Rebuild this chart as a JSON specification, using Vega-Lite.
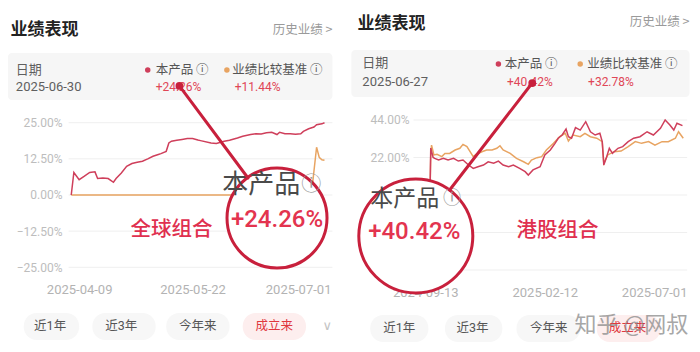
{
  "$schema": "https://vega.github.io/schema/vega-lite/v6.json",
  "padding": 0,
  "background": "#ffffff",
  "spacing": 8,
  "config": {
    "view": {"stroke": null},
    "axis": {"grid": false, "ticks": false, "domain": false},
    "font": "Noto Sans CJK SC"
  },
  "datasets": {
    "g_lines": [
      {"date": "2025-04-06", "v": 0, "series": "业绩比较基准"},
      {"date": "2025-05-01", "v": 0, "series": "业绩比较基准"},
      {"date": "2025-06-01", "v": 0, "series": "业绩比较基准"},
      {"date": "2025-07-06", "v": 0, "series": "业绩比较基准"},
      {"date": "2025-07-08", "v": 16.5, "series": "业绩比较基准"},
      {"date": "2025-07-09", "v": 13.0, "series": "业绩比较基准"},
      {"date": "2025-07-10", "v": 12.2, "series": "业绩比较基准"},
      {"date": "2025-07-11", "v": 12.0, "series": "业绩比较基准"},
      {"date": "2025-04-06", "v": 0, "series": "本产品"},
      {"date": "2025-04-07", "v": 7.8, "series": "本产品"},
      {"date": "2025-04-09", "v": 5.3, "series": "本产品"},
      {"date": "2025-04-11", "v": 6.5, "series": "本产品"},
      {"date": "2025-04-13", "v": 7.8, "series": "本产品"},
      {"date": "2025-04-15", "v": 8.0, "series": "本产品"},
      {"date": "2025-04-16", "v": 5.7, "series": "本产品"},
      {"date": "2025-04-18", "v": 5.9, "series": "本产品"},
      {"date": "2025-04-20", "v": 5.7, "series": "本产品"},
      {"date": "2025-04-22", "v": 4.4, "series": "本产品"},
      {"date": "2025-04-23", "v": 5.7, "series": "本产品"},
      {"date": "2025-04-25", "v": 7.6, "series": "本产品"},
      {"date": "2025-04-27", "v": 9.9, "series": "本产品"},
      {"date": "2025-04-29", "v": 10.9, "series": "本产品"},
      {"date": "2025-05-01", "v": 11.3, "series": "本产品"},
      {"date": "2025-05-03", "v": 11.7, "series": "本产品"},
      {"date": "2025-05-05", "v": 12.5, "series": "本产品"},
      {"date": "2025-05-07", "v": 13.4, "series": "本产品"},
      {"date": "2025-05-09", "v": 14.0, "series": "本产品"},
      {"date": "2025-05-10", "v": 14.3, "series": "本产品"},
      {"date": "2025-05-12", "v": 15.1, "series": "本产品"},
      {"date": "2025-05-13", "v": 18.0, "series": "本产品"},
      {"date": "2025-05-14", "v": 18.6, "series": "本产品"},
      {"date": "2025-05-16", "v": 18.9, "series": "本产品"},
      {"date": "2025-05-18", "v": 19.2, "series": "本产品"},
      {"date": "2025-05-20", "v": 19.5, "series": "本产品"},
      {"date": "2025-05-22", "v": 19.5, "series": "本产品"},
      {"date": "2025-05-24", "v": 19.0, "series": "本产品"},
      {"date": "2025-05-25", "v": 18.8, "series": "本产品"},
      {"date": "2025-05-29", "v": 18.0, "series": "本产品"},
      {"date": "2025-05-31", "v": 17.8, "series": "本产品"},
      {"date": "2025-06-03", "v": 18.6, "series": "本产品"},
      {"date": "2025-06-05", "v": 18.9, "series": "本产品"},
      {"date": "2025-06-08", "v": 19.7, "series": "本产品"},
      {"date": "2025-06-10", "v": 20.3, "series": "本产品"},
      {"date": "2025-06-13", "v": 20.9, "series": "本产品"},
      {"date": "2025-06-15", "v": 21.2, "series": "本产品"},
      {"date": "2025-06-17", "v": 21.1, "series": "本产品"},
      {"date": "2025-06-19", "v": 21.5, "series": "本产品"},
      {"date": "2025-06-21", "v": 21.7, "series": "本产品"},
      {"date": "2025-06-23", "v": 20.9, "series": "本产品"},
      {"date": "2025-06-24", "v": 21.7, "series": "本产品"},
      {"date": "2025-06-26", "v": 21.2, "series": "本产品"},
      {"date": "2025-06-28", "v": 21.2, "series": "本产品"},
      {"date": "2025-06-30", "v": 21.0, "series": "本产品"},
      {"date": "2025-07-02", "v": 21.2, "series": "本产品"},
      {"date": "2025-07-03", "v": 22.0, "series": "本产品"},
      {"date": "2025-07-05", "v": 22.9, "series": "本产品"},
      {"date": "2025-07-07", "v": 23.5, "series": "本产品"},
      {"date": "2025-07-08", "v": 24.3, "series": "本产品"},
      {"date": "2025-07-10", "v": 24.6, "series": "本产品"},
      {"date": "2025-07-11", "v": 25.0, "series": "本产品"}
    ],
    "h_lines": [
      {"date": "2024-09-19", "v": 0, "series": "业绩比较基准"},
      {"date": "2024-09-20", "v": 23.5, "series": "业绩比较基准"},
      {"date": "2024-09-21", "v": 29.3, "series": "业绩比较基准"},
      {"date": "2024-09-24", "v": 23.5, "series": "业绩比较基准"},
      {"date": "2024-09-28", "v": 23.9, "series": "业绩比较基准"},
      {"date": "2024-10-04", "v": 22.5, "series": "业绩比较基准"},
      {"date": "2024-10-08", "v": 24.4, "series": "业绩比较基准"},
      {"date": "2024-10-14", "v": 24.4, "series": "业绩比较基准"},
      {"date": "2024-10-21", "v": 26.4, "series": "业绩比较基准"},
      {"date": "2024-10-27", "v": 27.4, "series": "业绩比较基准"},
      {"date": "2024-10-31", "v": 29.7, "series": "业绩比较基准"},
      {"date": "2024-11-05", "v": 28.4, "series": "业绩比较基准"},
      {"date": "2024-11-09", "v": 25.4, "series": "业绩比较基准"},
      {"date": "2024-11-13", "v": 22.5, "series": "业绩比较基准"},
      {"date": "2024-11-17", "v": 23.9, "series": "业绩比较基准"},
      {"date": "2024-11-24", "v": 25.4, "series": "业绩比较基准"},
      {"date": "2024-11-30", "v": 26.4, "series": "业绩比较基准"},
      {"date": "2024-12-07", "v": 26.4, "series": "业绩比较基准"},
      {"date": "2024-12-13", "v": 27.4, "series": "业绩比较基准"},
      {"date": "2024-12-17", "v": 28.9, "series": "业绩比较基准"},
      {"date": "2024-12-21", "v": 26.4, "series": "业绩比较基准"},
      {"date": "2024-12-30", "v": 24.4, "series": "业绩比较基准"},
      {"date": "2025-01-07", "v": 21.5, "series": "业绩比较基准"},
      {"date": "2025-01-16", "v": 19.5, "series": "业绩比较基准"},
      {"date": "2025-01-22", "v": 18.0, "series": "业绩比较基准"},
      {"date": "2025-01-26", "v": 20.5, "series": "业绩比较基准"},
      {"date": "2025-02-02", "v": 21.9, "series": "业绩比较基准"},
      {"date": "2025-02-08", "v": 22.5, "series": "业绩比较基准"},
      {"date": "2025-02-14", "v": 26.4, "series": "业绩比较基准"},
      {"date": "2025-02-23", "v": 30.3, "series": "业绩比较基准"},
      {"date": "2025-03-03", "v": 34.2, "series": "业绩比较基准"},
      {"date": "2025-03-10", "v": 36.2, "series": "业绩比较基准"},
      {"date": "2025-03-14", "v": 31.7, "series": "业绩比较基准"},
      {"date": "2025-03-20", "v": 35.2, "series": "业绩比较基准"},
      {"date": "2025-03-29", "v": 34.2, "series": "业绩比较基准"},
      {"date": "2025-04-04", "v": 36.2, "series": "业绩比较基准"},
      {"date": "2025-04-11", "v": 34.2, "series": "业绩比较基准"},
      {"date": "2025-04-19", "v": 33.3, "series": "业绩比较基准"},
      {"date": "2025-04-26", "v": 31.3, "series": "业绩比较基准"},
      {"date": "2025-04-28", "v": 18.6, "series": "业绩比较基准"},
      {"date": "2025-05-03", "v": 23.5, "series": "业绩比较基准"},
      {"date": "2025-05-11", "v": 25.4, "series": "业绩比较基准"},
      {"date": "2025-05-20", "v": 25.8, "series": "业绩比较基准"},
      {"date": "2025-05-29", "v": 28.4, "series": "业绩比较基准"},
      {"date": "2025-06-07", "v": 31.3, "series": "业绩比较基准"},
      {"date": "2025-06-15", "v": 30.3, "series": "业绩比较基准"},
      {"date": "2025-06-24", "v": 31.3, "series": "业绩比较基准"},
      {"date": "2025-07-02", "v": 29.3, "series": "业绩比较基准"},
      {"date": "2025-07-11", "v": 31.3, "series": "业绩比较基准"},
      {"date": "2025-07-19", "v": 31.3, "series": "业绩比较基准"},
      {"date": "2025-07-28", "v": 33.3, "series": "业绩比较基准"},
      {"date": "2025-08-01", "v": 37.1, "series": "业绩比较基准"},
      {"date": "2025-08-07", "v": 33.3, "series": "业绩比较基准"},
      {"date": "2024-09-19", "v": 0, "series": "本产品"},
      {"date": "2024-09-20", "v": 27.5, "series": "本产品"},
      {"date": "2024-09-23", "v": 22.0, "series": "本产品"},
      {"date": "2024-09-25", "v": 21.5, "series": "本产品"},
      {"date": "2024-09-30", "v": 20.5, "series": "本产品"},
      {"date": "2024-10-06", "v": 21.5, "series": "本产品"},
      {"date": "2024-10-12", "v": 20.5, "series": "本产品"},
      {"date": "2024-10-19", "v": 21.5, "series": "本产品"},
      {"date": "2024-10-25", "v": 19.9, "series": "本产品"},
      {"date": "2024-10-31", "v": 20.5, "series": "本产品"},
      {"date": "2024-11-07", "v": 17.6, "series": "本产品"},
      {"date": "2024-11-13", "v": 15.6, "series": "本产品"},
      {"date": "2024-11-19", "v": 16.6, "series": "本产品"},
      {"date": "2024-11-26", "v": 17.6, "series": "本产品"},
      {"date": "2024-12-02", "v": 19.5, "series": "本产品"},
      {"date": "2024-12-09", "v": 18.6, "series": "本产品"},
      {"date": "2024-12-15", "v": 19.9, "series": "本产品"},
      {"date": "2024-12-21", "v": 17.6, "series": "本产品"},
      {"date": "2024-12-28", "v": 16.6, "series": "本产品"},
      {"date": "2025-01-03", "v": 17.6, "series": "本产品"},
      {"date": "2025-01-11", "v": 15.6, "series": "本产品"},
      {"date": "2025-01-18", "v": 13.7, "series": "本产品"},
      {"date": "2025-01-22", "v": 11.7, "series": "本产品"},
      {"date": "2025-01-28", "v": 14.7, "series": "本产品"},
      {"date": "2025-02-06", "v": 16.6, "series": "本产品"},
      {"date": "2025-02-12", "v": 23.5, "series": "本产品"},
      {"date": "2025-02-19", "v": 26.4, "series": "本产品"},
      {"date": "2025-02-25", "v": 30.3, "series": "本产品"},
      {"date": "2025-03-01", "v": 33.3, "series": "本产品"},
      {"date": "2025-03-06", "v": 35.2, "series": "本产品"},
      {"date": "2025-03-11", "v": 38.7, "series": "本产品"},
      {"date": "2025-03-14", "v": 34.2, "series": "本产品"},
      {"date": "2025-03-18", "v": 33.3, "series": "本产品"},
      {"date": "2025-03-23", "v": 39.5, "series": "本产品"},
      {"date": "2025-03-29", "v": 38.1, "series": "本产品"},
      {"date": "2025-04-05", "v": 43.0, "series": "本产品"},
      {"date": "2025-04-11", "v": 37.1, "series": "本产品"},
      {"date": "2025-04-17", "v": 35.2, "series": "本产品"},
      {"date": "2025-04-23", "v": 36.2, "series": "本产品"},
      {"date": "2025-04-26", "v": 31.3, "series": "本产品"},
      {"date": "2025-04-28", "v": 17.6, "series": "本产品"},
      {"date": "2025-05-01", "v": 21.5, "series": "本产品"},
      {"date": "2025-05-05", "v": 27.4, "series": "本产品"},
      {"date": "2025-05-09", "v": 24.4, "series": "本产品"},
      {"date": "2025-05-16", "v": 27.4, "series": "本产品"},
      {"date": "2025-05-22", "v": 28.4, "series": "本产品"},
      {"date": "2025-05-29", "v": 31.3, "series": "本产品"},
      {"date": "2025-06-05", "v": 33.3, "series": "本产品"},
      {"date": "2025-06-13", "v": 34.2, "series": "本产品"},
      {"date": "2025-06-22", "v": 37.1, "series": "本产品"},
      {"date": "2025-06-30", "v": 35.2, "series": "本产品"},
      {"date": "2025-07-09", "v": 39.1, "series": "本产品"},
      {"date": "2025-07-15", "v": 44.0, "series": "本产品"},
      {"date": "2025-07-21", "v": 41.1, "series": "本产品"},
      {"date": "2025-07-26", "v": 38.1, "series": "本产品"},
      {"date": "2025-07-30", "v": 42.1, "series": "本产品"},
      {"date": "2025-08-06", "v": 40.7, "series": "本产品"}
    ],
    "g_grid": [{"v": 25}, {"v": 12.5}, {"v": 0}, {"v": -12.5}, {"v": -25}],
    "h_grid": [{"v": 44}, {"v": 22}, {"v": 0}, {"v": -22}, {"v": -44}],
    "g_ann": [
      {"kind": "box", "date": "2025-03-13", "date2": "2025-07-14", "v": 49.1, "v2": 32.85},
      {"kind": "title", "t": "业绩表现", "date": "2025-03-14", "v": 57.06},
      {"kind": "link", "t": "历史业绩 >", "date": "2025-07-14", "v": 57.06},
      {"kind": "meta", "t": "日期", "date": "2025-03-16", "v": 43.2},
      {"kind": "meta", "t": "2025-06-30", "date": "2025-03-16", "v": 37.35},
      {"kind": "dot", "series": "本产品", "date": "2025-05-05", "v": 43.2},
      {"kind": "dot", "series": "业绩比较基准", "date": "2025-06-04", "v": 43.2},
      {"kind": "legend", "t": "本产品 ⓘ", "date": "2025-05-08", "v": 43.2},
      {"kind": "legend", "t": "业绩比较基准 ⓘ", "date": "2025-06-06", "v": 43.2},
      {"kind": "value", "t": "+24.26%", "date": "2025-05-08", "v": 37.35},
      {"kind": "value", "t": "+11.44%", "date": "2025-06-07", "v": 37.35},
      {"kind": "pill", "date": "2025-03-19", "date2": "2025-04-09", "v": -40.8, "v2": -50.1},
      {"kind": "pill", "date": "2025-04-14", "date2": "2025-05-08", "v": -40.8, "v2": -50.1},
      {"kind": "pill", "date": "2025-05-12", "date2": "2025-06-05", "v": -40.8, "v2": -50.1},
      {"kind": "pillOn", "date": "2025-06-10", "date2": "2025-07-04", "v": -40.8, "v2": -50.1},
      {"kind": "button", "t": "近1年", "date": "2025-03-29", "v": -45.3},
      {"kind": "button", "t": "近3年", "date": "2025-04-25", "v": -45.3},
      {"kind": "button", "t": "今年来", "date": "2025-05-24", "v": -45.3},
      {"kind": "buttonOn", "t": "成立来", "date": "2025-06-22", "v": -45.3},
      {"kind": "chev", "t": "∨", "date": "2025-07-12", "v": -45.3},
      {"kind": "name", "t": "全球组合", "date": "2025-05-14", "v": -12.1},
      {"kind": "lens", "date": "2025-06-23", "v": -7.95},
      {"kind": "big", "t": "本产品", "date": "2025-06-17", "v": 3.46},
      {"kind": "info", "t": "ⓘ", "date": "2025-07-06", "v": 3.46},
      {"kind": "bigvalue", "t": "+24.26%", "date": "2025-06-23", "v": -8.64},
      {"kind": "arrow", "date": "2025-05-17", "v": 37.7, "date2": "2025-06-12", "v2": 5.88},
      {"kind": "tip", "date": "2025-05-17", "v": 37.7}
    ],
    "h_ann": [
      {"kind": "box", "date": "2024-06-11", "date2": "2025-08-15", "v": 85.07, "v2": 57.49},
      {"kind": "title", "t": "业绩表现", "date": "2024-06-19", "v": 100.5},
      {"kind": "link", "t": "历史业绩 >", "date": "2025-08-15", "v": 101.2},
      {"kind": "meta", "t": "日期", "date": "2024-06-25", "v": 77.44},
      {"kind": "meta", "t": "2025-06-27", "date": "2024-06-25", "v": 66.29},
      {"kind": "dot", "series": "本产品", "date": "2024-12-15", "v": 76.85},
      {"kind": "dot", "series": "业绩比较基准", "date": "2025-03-29", "v": 76.85},
      {"kind": "legend", "t": "本产品 ⓘ", "date": "2024-12-23", "v": 76.85},
      {"kind": "legend", "t": "业绩比较基准 ⓘ", "date": "2025-04-07", "v": 76.85},
      {"kind": "value", "t": "+40.42%", "date": "2024-12-26", "v": 66.29},
      {"kind": "value", "t": "+32.78%", "date": "2025-04-08", "v": 66.29},
      {"kind": "pill", "date": "2024-07-05", "date2": "2024-09-17", "v": -70.4, "v2": -86.2},
      {"kind": "pill", "date": "2024-10-08", "date2": "2024-12-20", "v": -70.4, "v2": -86.2},
      {"kind": "pill", "date": "2025-01-07", "date2": "2025-03-29", "v": -70.4, "v2": -86.2},
      {"kind": "pillOn", "date": "2025-04-19", "date2": "2025-07-09", "v": -70.4, "v2": -86.2},
      {"kind": "button", "t": "近1年", "date": "2024-08-11", "v": -78.0},
      {"kind": "button", "t": "近3年", "date": "2024-11-12", "v": -78.0},
      {"kind": "button", "t": "今年来", "date": "2025-02-17", "v": -78.0},
      {"kind": "buttonOn", "t": "成立来", "date": "2025-05-28", "v": -78.0},
      {"kind": "name", "t": "港股组合", "date": "2025-02-28", "v": -21.1},
      {"kind": "lens", "date": "2024-09-01", "v": -24.06},
      {"kind": "big", "t": "本产品", "date": "2024-08-18", "v": -2.35},
      {"kind": "info", "t": "ⓘ", "date": "2024-10-17", "v": -2.35},
      {"kind": "bigvalue", "t": "+40.42%", "date": "2024-08-30", "v": -22.0},
      {"kind": "arrow", "date": "2025-01-27", "v": 65.7, "date2": "2024-10-14", "v2": 2.93},
      {"kind": "tip", "date": "2025-01-27", "v": 65.7},
      {"kind": "mark", "t": "知乎 @网叔", "date": "2025-06-02", "v": -76.3}
    ]
  },
  "hconcat": [
    {
      "width": 340,
      "height": 352,
      "layer": [
        {
          "data": {"name": "g_grid"},
          "mark": {"type": "rule", "color": "#efefef", "strokeWidth": 1},
          "encoding": {
            "y": {"field": "v", "type": "quantitative", "title": null},
            "x": {"datum": {"year": 2025, "month": 4, "date": 5, "utc": true}, "type": "temporal", "title": null},
            "x2": {"datum": {"year": 2025, "month": 7, "date": 14, "utc": true}}
          }
        },
        {
          "data": {"name": "g_lines"},
          "mark": {"type": "line", "strokeWidth": 1.5},
          "encoding": {
            "x": {
              "field": "date", "type": "temporal", "title": null,
              "scale": {"type": "utc", "domain": [{"year": 2025, "month": 3, "date": 10, "utc": true}, {"year": 2025, "month": 7, "date": 16, "hours": 21, "utc": true}]},
              "axis": {
                "values": [{"year": 2025, "month": 4, "date": 9, "utc": true}, {"year": 2025, "month": 5, "date": 22, "utc": true}, {"year": 2025, "month": 7, "date": 1, "utc": true}],
                "format": "%Y-%m-%d", "offset": -72, "labelPadding": 3, "labelColor": "#b3b3b3", "labelFontSize": 13, "labelFont": "Roboto",
                "labelFlush": false, "labelOverlap": false, "grid": false, "ticks": false, "domain": false
              }
            },
            "y": {
              "field": "v", "type": "quantitative", "title": null,
              "scale": {"domain": [-54.29, 67.43], "nice": false, "zero": false},
              "axis": {
                "values": [25, 12.5, 0, -12.5, -25], "offset": -62, "labelPadding": 0,
                "labelExpr": "format(datum.value, '.2f') + '%'", "labelColor": "#bdbdbd", "labelFontSize": 12, "labelFont": "Roboto",
                "grid": false, "ticks": false, "domain": false
              }
            },
            "color": {"field": "series", "type": "nominal", "scale": {"domain": ["本产品", "业绩比较基准"], "range": ["#cf3f5b", "#e8a462"]}, "legend": null}
          }
        },
        {
          "data": {"name": "g_ann", "format": {"parse": {"date2": "date"}}},
          "transform": [{"filter": "datum.kind === 'box'"}],
          "mark": {"type": "rect", "color": "#f6f6f6", "cornerRadius": 4},
          "encoding": {
            "x": {"field": "date", "type": "temporal", "title": null}, "x2": {"field": "date2"},
            "y": {"field": "v", "type": "quantitative", "title": null}, "y2": {"field": "v2"}
          }
        },
        {
          "data": {"name": "g_ann", "format": {"parse": {"date2": "date"}}},
          "transform": [{"filter": "datum.kind === 'pill'"}],
          "mark": {"type": "rect", "color": "#f7f7f7", "cornerRadius": 13},
          "encoding": {
            "x": {"field": "date", "type": "temporal", "title": null}, "x2": {"field": "date2"},
            "y": {"field": "v", "type": "quantitative", "title": null}, "y2": {"field": "v2"}
          }
        },
        {
          "data": {"name": "g_ann", "format": {"parse": {"date2": "date"}}},
          "transform": [{"filter": "datum.kind === 'pillOn'"}],
          "mark": {"type": "rect", "color": "#fdeeee", "cornerRadius": 13},
          "encoding": {
            "x": {"field": "date", "type": "temporal", "title": null}, "x2": {"field": "date2"},
            "y": {"field": "v", "type": "quantitative", "title": null}, "y2": {"field": "v2"}
          }
        },
        {
          "data": {"name": "g_ann"},
          "transform": [{"filter": "datum.kind === 'title'"}],
          "mark": {"type": "text", "align": "left", "baseline": "middle", "font": "Noto Sans CJK SC", "fontSize": 17, "fontWeight": "bold", "color": "#222222"},
          "encoding": {"x": {"field": "date", "type": "temporal", "title": null}, "y": {"field": "v", "type": "quantitative", "title": null}, "text": {"field": "t"}}
        },
        {
          "data": {"name": "g_ann"},
          "transform": [{"filter": "datum.kind === 'link'"}],
          "mark": {"type": "text", "align": "right", "baseline": "middle", "font": "Noto Sans CJK SC", "fontSize": 12.5, "color": "#9a9a9a"},
          "encoding": {"x": {"field": "date", "type": "temporal", "title": null}, "y": {"field": "v", "type": "quantitative", "title": null}, "text": {"field": "t"}}
        },
        {
          "data": {"name": "g_ann"},
          "transform": [{"filter": "datum.kind === 'meta'"}],
          "mark": {"type": "text", "align": "left", "baseline": "middle", "font": "Roboto, Noto Sans CJK SC", "fontSize": 13, "color": "#5f5f5f"},
          "encoding": {"x": {"field": "date", "type": "temporal", "title": null}, "y": {"field": "v", "type": "quantitative", "title": null}, "text": {"field": "t"}}
        },
        {
          "data": {"name": "g_ann"},
          "transform": [{"filter": "datum.kind === 'legend'"}],
          "mark": {"type": "text", "align": "left", "baseline": "middle", "font": "Noto Sans CJK SC", "fontSize": 12.5, "color": "#555555"},
          "encoding": {"x": {"field": "date", "type": "temporal", "title": null}, "y": {"field": "v", "type": "quantitative", "title": null}, "text": {"field": "t"}}
        },
        {
          "data": {"name": "g_ann"},
          "transform": [{"filter": "datum.kind === 'value'"}],
          "mark": {"type": "text", "align": "left", "baseline": "middle", "font": "Roboto", "fontSize": 12, "color": "#e04656"},
          "encoding": {"x": {"field": "date", "type": "temporal", "title": null}, "y": {"field": "v", "type": "quantitative", "title": null}, "text": {"field": "t"}}
        },
        {
          "data": {"name": "g_ann"},
          "transform": [{"filter": "datum.kind === 'dot'"}],
          "mark": {"type": "circle", "size": 30, "opacity": 1},
          "encoding": {"x": {"field": "date", "type": "temporal", "title": null}, "y": {"field": "v", "type": "quantitative", "title": null}, "color": {"field": "series", "type": "nominal", "legend": null}}
        },
        {
          "data": {"name": "g_ann"},
          "transform": [{"filter": "datum.kind === 'button'"}],
          "mark": {"type": "text", "align": "center", "baseline": "middle", "font": "Roboto, Noto Sans CJK SC", "fontSize": 12.5, "color": "#555555"},
          "encoding": {"x": {"field": "date", "type": "temporal", "title": null}, "y": {"field": "v", "type": "quantitative", "title": null}, "text": {"field": "t"}}
        },
        {
          "data": {"name": "g_ann"},
          "transform": [{"filter": "datum.kind === 'buttonOn'"}],
          "mark": {"type": "text", "align": "center", "baseline": "middle", "font": "Noto Sans CJK SC", "fontSize": 12.5, "color": "#e0383e"},
          "encoding": {"x": {"field": "date", "type": "temporal", "title": null}, "y": {"field": "v", "type": "quantitative", "title": null}, "text": {"field": "t"}}
        },
        {
          "data": {"name": "g_ann"},
          "transform": [{"filter": "datum.kind === 'chev'"}],
          "mark": {"type": "text", "align": "center", "baseline": "middle", "font": "DejaVu Sans", "fontSize": 13, "color": "#c4c4c4"},
          "encoding": {"x": {"field": "date", "type": "temporal", "title": null}, "y": {"field": "v", "type": "quantitative", "title": null}, "text": {"field": "t"}}
        },
        {
          "data": {"name": "g_ann"},
          "transform": [{"filter": "datum.kind === 'name'"}],
          "mark": {"type": "text", "align": "center", "baseline": "middle", "font": "Noto Sans CJK SC", "fontSize": 20.5, "fontWeight": 500, "color": "#e0304f"},
          "encoding": {"x": {"field": "date", "type": "temporal", "title": null}, "y": {"field": "v", "type": "quantitative", "title": null}, "text": {"field": "t"}}
        },
        {
          "data": {"name": "g_ann"},
          "transform": [{"filter": "datum.kind === 'lens'"}],
          "mark": {"type": "point", "shape": "circle", "size": 10000, "filled": true, "fill": "#ffffff", "stroke": "#c8203c", "strokeWidth": 3, "opacity": 1},
          "encoding": {"x": {"field": "date", "type": "temporal", "title": null}, "y": {"field": "v", "type": "quantitative", "title": null}}
        },
        {
          "data": {"name": "g_ann"},
          "transform": [{"filter": "datum.kind === 'big'"}],
          "mark": {"type": "text", "align": "center", "baseline": "middle", "font": "Noto Sans CJK SC", "fontSize": 26, "color": "#4a4a4a"},
          "encoding": {"x": {"field": "date", "type": "temporal", "title": null}, "y": {"field": "v", "type": "quantitative", "title": null}, "text": {"field": "t"}}
        },
        {
          "data": {"name": "g_ann"},
          "transform": [{"filter": "datum.kind === 'info'"}],
          "mark": {"type": "text", "align": "center", "baseline": "middle", "font": "Noto Sans CJK SC", "fontSize": 20, "color": "#9a9a9a"},
          "encoding": {"x": {"field": "date", "type": "temporal", "title": null}, "y": {"field": "v", "type": "quantitative", "title": null}, "text": {"field": "t"}}
        },
        {
          "data": {"name": "g_ann"},
          "transform": [{"filter": "datum.kind === 'bigvalue'"}],
          "mark": {"type": "text", "align": "center", "baseline": "middle", "font": "Roboto", "fontSize": 24, "fontWeight": 500, "color": "#e3344f"},
          "encoding": {"x": {"field": "date", "type": "temporal", "title": null}, "y": {"field": "v", "type": "quantitative", "title": null}, "text": {"field": "t"}}
        },
        {
          "data": {"name": "g_ann", "format": {"parse": {"date2": "date"}}},
          "transform": [{"filter": "datum.kind === 'arrow'"}],
          "mark": {"type": "rule", "color": "#c8203c", "strokeWidth": 3, "strokeCap": "round"},
          "encoding": {
            "x": {"field": "date", "type": "temporal", "title": null}, "x2": {"field": "date2"},
            "y": {"field": "v", "type": "quantitative", "title": null}, "y2": {"field": "v2"}
          }
        },
        {
          "data": {"name": "g_ann"},
          "transform": [{"filter": "datum.kind === 'tip'"}],
          "mark": {"type": "circle", "size": 60, "color": "#c8203c", "opacity": 1},
          "encoding": {"x": {"field": "date", "type": "temporal", "title": null}, "y": {"field": "v", "type": "quantitative", "title": null}}
        }
      ]
    },
    {
      "width": 352,
      "height": 352,
      "layer": [
        {
          "data": {"name": "h_grid"},
          "mark": {"type": "rule", "color": "#efefef", "strokeWidth": 1},
          "encoding": {
            "y": {"field": "v", "type": "quantitative", "title": null},
            "x": {"datum": {"year": 2024, "month": 8, "date": 29, "utc": true}, "type": "temporal", "title": null},
            "x2": {"datum": {"year": 2025, "month": 8, "date": 12, "utc": true}}
          }
        },
        {
          "data": {"name": "h_lines"},
          "mark": {"type": "line", "strokeWidth": 1.5},
          "encoding": {
            "x": {
              "field": "date", "type": "temporal", "title": null,
              "scale": {"type": "utc", "domain": [{"year": 2024, "month": 6, "date": 6, "hours": 19, "utc": true}, {"year": 2025, "month": 8, "date": 28, "hours": 7, "utc": true}]},
              "axis": {
                "values": [{"year": 2024, "month": 9, "date": 13, "utc": true}, {"year": 2025, "month": 2, "date": 12, "utc": true}, {"year": 2025, "month": 7, "date": 1, "utc": true}],
                "format": "%Y-%m-%d", "offset": -69, "labelPadding": 3, "labelColor": "#b3b3b3", "labelFontSize": 13, "labelFont": "Roboto",
                "labelFlush": false, "labelOverlap": false, "grid": false, "ticks": false, "domain": false
              }
            },
            "y": {
              "field": "v", "type": "quantitative", "title": null,
              "scale": {"domain": [-92.11, 114.4], "nice": false, "zero": false},
              "axis": {
                "values": [44, 22], "offset": -61, "labelPadding": 0,
                "labelExpr": "format(datum.value, '.2f') + '%'", "labelColor": "#bdbdbd", "labelFontSize": 12, "labelFont": "Roboto",
                "grid": false, "ticks": false, "domain": false
              }
            },
            "color": {"field": "series", "type": "nominal", "scale": {"domain": ["本产品", "业绩比较基准"], "range": ["#cf3f5b", "#e8a462"]}, "legend": null}
          }
        },
        {
          "data": {"name": "h_ann", "format": {"parse": {"date2": "date"}}},
          "transform": [{"filter": "datum.kind === 'box'"}],
          "mark": {"type": "rect", "color": "#f6f6f6", "cornerRadius": 4},
          "encoding": {
            "x": {"field": "date", "type": "temporal", "title": null}, "x2": {"field": "date2"},
            "y": {"field": "v", "type": "quantitative", "title": null}, "y2": {"field": "v2"}
          }
        },
        {
          "data": {"name": "h_ann", "format": {"parse": {"date2": "date"}}},
          "transform": [{"filter": "datum.kind === 'pill'"}],
          "mark": {"type": "rect", "color": "#f7f7f7", "cornerRadius": 13},
          "encoding": {
            "x": {"field": "date", "type": "temporal", "title": null}, "x2": {"field": "date2"},
            "y": {"field": "v", "type": "quantitative", "title": null}, "y2": {"field": "v2"}
          }
        },
        {
          "data": {"name": "h_ann", "format": {"parse": {"date2": "date"}}},
          "transform": [{"filter": "datum.kind === 'pillOn'"}],
          "mark": {"type": "rect", "color": "#fdeeee", "cornerRadius": 13},
          "encoding": {
            "x": {"field": "date", "type": "temporal", "title": null}, "x2": {"field": "date2"},
            "y": {"field": "v", "type": "quantitative", "title": null}, "y2": {"field": "v2"}
          }
        },
        {
          "data": {"name": "h_ann"},
          "transform": [{"filter": "datum.kind === 'title'"}],
          "mark": {"type": "text", "align": "left", "baseline": "middle", "font": "Noto Sans CJK SC", "fontSize": 17, "fontWeight": "bold", "color": "#222222"},
          "encoding": {"x": {"field": "date", "type": "temporal", "title": null}, "y": {"field": "v", "type": "quantitative", "title": null}, "text": {"field": "t"}}
        },
        {
          "data": {"name": "h_ann"},
          "transform": [{"filter": "datum.kind === 'link'"}],
          "mark": {"type": "text", "align": "right", "baseline": "middle", "font": "Noto Sans CJK SC", "fontSize": 12.5, "color": "#9a9a9a"},
          "encoding": {"x": {"field": "date", "type": "temporal", "title": null}, "y": {"field": "v", "type": "quantitative", "title": null}, "text": {"field": "t"}}
        },
        {
          "data": {"name": "h_ann"},
          "transform": [{"filter": "datum.kind === 'meta'"}],
          "mark": {"type": "text", "align": "left", "baseline": "middle", "font": "Roboto, Noto Sans CJK SC", "fontSize": 13, "color": "#5f5f5f"},
          "encoding": {"x": {"field": "date", "type": "temporal", "title": null}, "y": {"field": "v", "type": "quantitative", "title": null}, "text": {"field": "t"}}
        },
        {
          "data": {"name": "h_ann"},
          "transform": [{"filter": "datum.kind === 'legend'"}],
          "mark": {"type": "text", "align": "left", "baseline": "middle", "font": "Noto Sans CJK SC", "fontSize": 12.5, "color": "#555555"},
          "encoding": {"x": {"field": "date", "type": "temporal", "title": null}, "y": {"field": "v", "type": "quantitative", "title": null}, "text": {"field": "t"}}
        },
        {
          "data": {"name": "h_ann"},
          "transform": [{"filter": "datum.kind === 'value'"}],
          "mark": {"type": "text", "align": "left", "baseline": "middle", "font": "Roboto", "fontSize": 12, "color": "#e04656"},
          "encoding": {"x": {"field": "date", "type": "temporal", "title": null}, "y": {"field": "v", "type": "quantitative", "title": null}, "text": {"field": "t"}}
        },
        {
          "data": {"name": "h_ann"},
          "transform": [{"filter": "datum.kind === 'dot'"}],
          "mark": {"type": "circle", "size": 30, "opacity": 1},
          "encoding": {"x": {"field": "date", "type": "temporal", "title": null}, "y": {"field": "v", "type": "quantitative", "title": null}, "color": {"field": "series", "type": "nominal", "legend": null}}
        },
        {
          "data": {"name": "h_ann"},
          "transform": [{"filter": "datum.kind === 'button'"}],
          "mark": {"type": "text", "align": "center", "baseline": "middle", "font": "Roboto, Noto Sans CJK SC", "fontSize": 12.5, "color": "#555555"},
          "encoding": {"x": {"field": "date", "type": "temporal", "title": null}, "y": {"field": "v", "type": "quantitative", "title": null}, "text": {"field": "t"}}
        },
        {
          "data": {"name": "h_ann"},
          "transform": [{"filter": "datum.kind === 'buttonOn'"}],
          "mark": {"type": "text", "align": "center", "baseline": "middle", "font": "Noto Sans CJK SC", "fontSize": 12.5, "color": "#e0383e"},
          "encoding": {"x": {"field": "date", "type": "temporal", "title": null}, "y": {"field": "v", "type": "quantitative", "title": null}, "text": {"field": "t"}}
        },
        {
          "data": {"name": "h_ann"},
          "transform": [{"filter": "datum.kind === 'name'"}],
          "mark": {"type": "text", "align": "center", "baseline": "middle", "font": "Noto Sans CJK SC", "fontSize": 20.5, "fontWeight": 500, "color": "#e0304f"},
          "encoding": {"x": {"field": "date", "type": "temporal", "title": null}, "y": {"field": "v", "type": "quantitative", "title": null}, "text": {"field": "t"}}
        },
        {
          "data": {"name": "h_ann"},
          "transform": [{"filter": "datum.kind === 'lens'"}],
          "mark": {"type": "point", "shape": "circle", "size": 12996, "filled": true, "fill": "#ffffff", "stroke": "#c8203c", "strokeWidth": 3, "opacity": 1},
          "encoding": {"x": {"field": "date", "type": "temporal", "title": null}, "y": {"field": "v", "type": "quantitative", "title": null}}
        },
        {
          "data": {"name": "h_ann"},
          "transform": [{"filter": "datum.kind === 'big'"}],
          "mark": {"type": "text", "align": "center", "baseline": "middle", "font": "Noto Sans CJK SC", "fontSize": 23, "color": "#4a4a4a"},
          "encoding": {"x": {"field": "date", "type": "temporal", "title": null}, "y": {"field": "v", "type": "quantitative", "title": null}, "text": {"field": "t"}}
        },
        {
          "data": {"name": "h_ann"},
          "transform": [{"filter": "datum.kind === 'info'"}],
          "mark": {"type": "text", "align": "center", "baseline": "middle", "font": "Noto Sans CJK SC", "fontSize": 18, "color": "#9a9a9a"},
          "encoding": {"x": {"field": "date", "type": "temporal", "title": null}, "y": {"field": "v", "type": "quantitative", "title": null}, "text": {"field": "t"}}
        },
        {
          "data": {"name": "h_ann"},
          "transform": [{"filter": "datum.kind === 'bigvalue'"}],
          "mark": {"type": "text", "align": "center", "baseline": "middle", "font": "Roboto", "fontSize": 24, "fontWeight": 500, "color": "#e3344f"},
          "encoding": {"x": {"field": "date", "type": "temporal", "title": null}, "y": {"field": "v", "type": "quantitative", "title": null}, "text": {"field": "t"}}
        },
        {
          "data": {"name": "h_ann", "format": {"parse": {"date2": "date"}}},
          "transform": [{"filter": "datum.kind === 'arrow'"}],
          "mark": {"type": "rule", "color": "#c8203c", "strokeWidth": 3, "strokeCap": "round"},
          "encoding": {
            "x": {"field": "date", "type": "temporal", "title": null}, "x2": {"field": "date2"},
            "y": {"field": "v", "type": "quantitative", "title": null}, "y2": {"field": "v2"}
          }
        },
        {
          "data": {"name": "h_ann"},
          "transform": [{"filter": "datum.kind === 'tip'"}],
          "mark": {"type": "circle", "size": 60, "color": "#c8203c", "opacity": 1},
          "encoding": {"x": {"field": "date", "type": "temporal", "title": null}, "y": {"field": "v", "type": "quantitative", "title": null}}
        },
        {
          "data": {"name": "h_ann"},
          "transform": [{"filter": "datum.kind === 'mark'"}],
          "mark": {"type": "text", "align": "center", "baseline": "middle", "font": "Noto Sans CJK SC", "fontSize": 22, "color": "#8a8a8a", "opacity": 0.75},
          "encoding": {"x": {"field": "date", "type": "temporal", "title": null}, "y": {"field": "v", "type": "quantitative", "title": null}, "text": {"field": "t"}}
        }
      ]
    }
  ]
}
